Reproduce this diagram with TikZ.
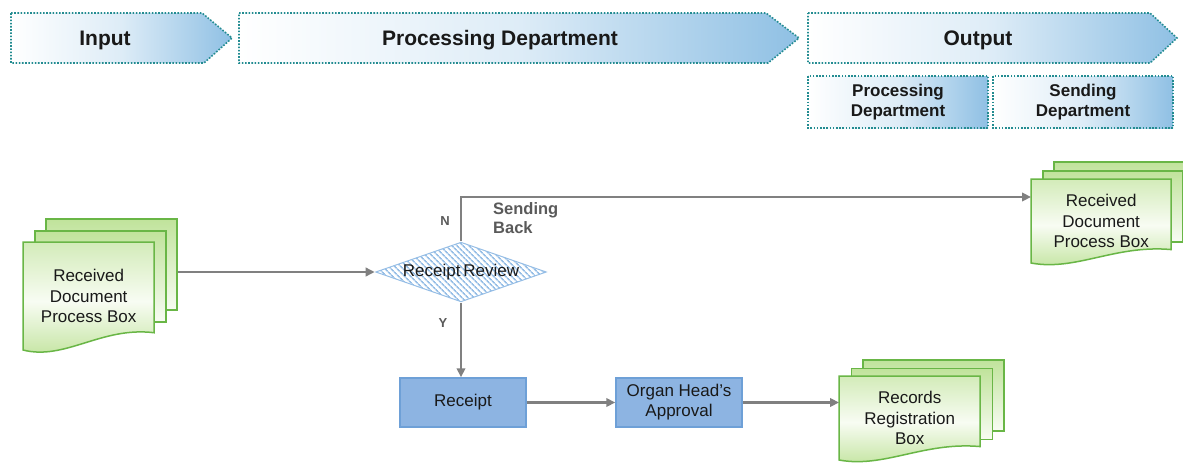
\documentclass[tikz,border=0pt]{standalone}
\usepackage{fontspec}
\setmainfont{Liberation Sans}
\usetikzlibrary{arrows.meta,shapes.geometric,patterns.meta}

\definecolor{hdrblue}{RGB}{143,192,228}
\definecolor{hdrline}{RGB}{35,140,145}
\definecolor{docline}{RGB}{105,182,70}
\definecolor{docgreen}{RGB}{192,227,155}
\definecolor{docpale}{RGB}{248,252,243}
\definecolor{boxfill}{RGB}{141,180,226}
\definecolor{boxline}{RGB}{110,160,215}
\definecolor{connector}{RGB}{128,128,128}
\definecolor{labelgray}{RGB}{90,90,90}
\definecolor{hatch}{RGB}{150,190,230}
\definecolor{inktext}{RGB}{25,25,25}

\tikzset{
  hdrframe/.style={draw=hdrline, line width=1.6pt, dash pattern=on 1.6pt off 1.6pt,
    left color=white, right color=hdrblue, middle color=hdrblue!30},
  hdrtext/.style={font=\fontsize{21}{24}\selectfont\bfseries, text=inktext, inner sep=0pt},
  subtext/.style={font=\fontsize{17}{19.5}\selectfont\bfseries, text=inktext, align=center, inner sep=0pt},
  conn/.style={draw=connector, line width=2.5pt, -{Triangle[length=9pt,width=8.5pt]}},
  procbox/.style={draw=boxline, line width=1.5pt, fill=boxfill, minimum width=126pt,
    minimum height=49pt, inner sep=0pt, align=center,
    font=\fontsize{17}{20}\selectfont, text=inktext},
  backsheet/.style={draw=docline, line width=1.5pt, top color=docgreen, bottom color=docpale, inner sep=0pt},
  frontsheet/.style={draw=docline, line width=1.5pt, top color=docgreen!70!white,
    bottom color=docgreen, middle color=docpale},
  doctext/.style={inner sep=0pt, anchor=north west, align=center,
    font=\fontsize{17}{20.5}\selectfont, text=inktext},
  decision/.style={diamond, aspect=2.85, minimum width=171pt, minimum height=60pt, inner sep=0pt,
    draw=hatch, line width=1pt, pattern={Lines[angle=-45, distance=4pt, line width=1.7pt]},
    pattern color=hatch, font=\fontsize{17}{20}\selectfont, text=inktext},
  flaglabel/.style={font=\fontsize{13}{15}\selectfont\bfseries, text=labelgray, inner sep=0pt},
}

% stack of three document sheets:
% #1 name, #2 left, #3 top, #4 width, #5 height, #6 back-sheet height, #7 dx, #8 dy, #9 text
\newcommand\docstack[9]{%
  \node[backsheet, anchor=north west, minimum width=#4pt, minimum height=#6pt]
    (#1-back) at (#2+2*#7, #3-2*#8) {};
  \node[backsheet, anchor=north west, minimum width=#4pt, minimum height=#6pt]
    (#1-mid) at (#2+#7, #3-#8) {};
  \path[frontsheet] (#2,#3) -- (#2+#4,#3) -- (#2+#4,#3+0.84*#5)
    .. controls (#2+0.6*#4,#3+0.78*#5) and (#2+0.32*#4,#3+1.1*#5) .. (#2,#3+#5) -- cycle;
  \node[doctext, minimum width=#4pt, minimum height=#5pt] (#1) at (#2,#3) {#9};
}

\begin{document}
\begin{tikzpicture}[x=1pt, y=-1pt]
  \path[fill=white, use as bounding box] (0,0) rectangle (1183,463);

  % phase headers
  \path[hdrframe] (11,13) -- (202,13) -- (232,38) -- (204,63) -- (11,63) -- cycle;
  \path[hdrframe] (239,13) -- (766,13) -- (799,38) -- (768,63) -- (239,63) -- cycle;
  \path[hdrframe] (808,13) -- (1150,13) -- (1177,38) -- (1150,63) -- (808,63) -- cycle;
  \node[hdrtext, anchor=base] (h-input) at (105,45) {Input};
  \node[hdrtext, anchor=base] (h-proc) at (500,45) {Processing Department};
  \node[hdrtext, anchor=base] (h-out) at (978,45) {Output};

  \path[hdrframe] (808,76) rectangle (988,128);
  \path[hdrframe] (993,76) rectangle (1173,128);
  \node[subtext] (s-proc) at (898,102) {Processing\\Department};
  \node[subtext] (s-send) at (1083,102) {Sending\\Department};

  % documents
  \docstack{inbox}{23}{242}{131}{108}{91}{11}{12}{Received\\Document\\Process Box}
  \docstack{retbox}{1031}{179}{140}{84}{71}{11}{9}{Received\\Document\\Process Box}
  \docstack{records}{839}{376}{141}{84}{71}{11.5}{8.5}{Records\\Registration\\Box}

  % process steps
  \node[decision] (review) at (461,272) {Receipt\,Review};
  \node[procbox] (receipt) at (463,402.5) {Receipt};
  \node[procbox] (approval) at (679,402.5) {Organ Head’s\\Approval};

  % connectors
  \coordinate (level) at (0,197);
  \draw[conn] (inbox-back.east |- review.west) -- (review.west);
  \draw[conn] (review.north) -- (review.north |- level) -- (level -| retbox.west);
  \draw[conn] (review.south) -- (review.south |- receipt.north);
  \draw[conn] (receipt.east) -- (approval.west);
  \draw[conn] (approval.east) -- (approval.east -| records.west);

  % branch labels
  \node[flaglabel] (nmark) at (445,221) {N};
  \node[flaglabel] (ymark) at (443,323) {Y};
  \node[font=\fontsize{16.5}{19}\selectfont\bfseries, text=labelgray, align=left,
        anchor=west, inner sep=0pt] (sendback) at (493,218.5) {Sending\\Back};
\end{tikzpicture}
\end{document}
